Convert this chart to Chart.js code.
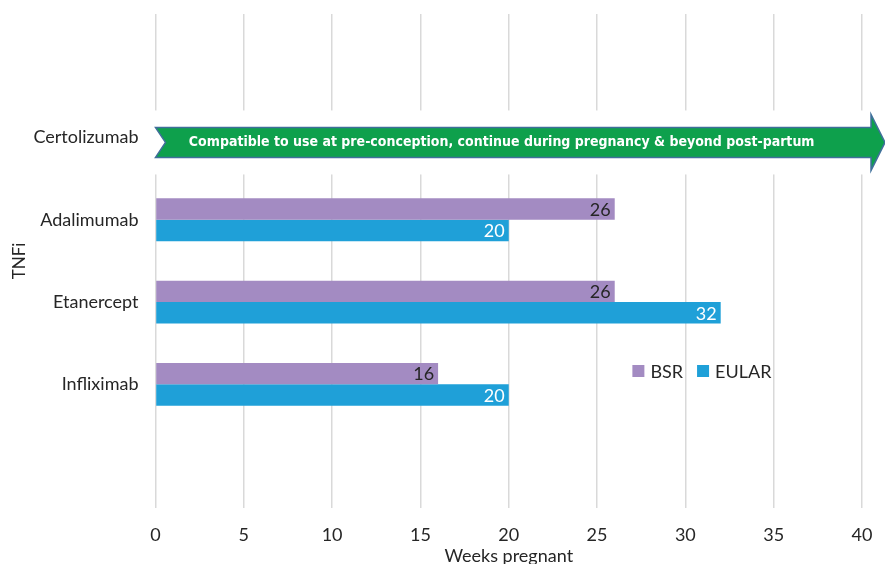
<!DOCTYPE html>
<html>
<head>
<meta charset="utf-8">
<script src="https://cdn.jsdelivr.net/npm/chart.js@4.4.1/dist/chart.umd.min.js"></script>
<style>
  html, body { margin: 0; padding: 0; background: #fff; }
  #wrap { width: 885px; height: 564px; }
</style>
</head>
<body>
<div id="wrap"><canvas id="tnfiChart" width="885" height="564"></canvas></div>
<script>
// categories (empty slots keep the spacing of the original)
const drugs = ["", "Certolizumab", "Adalimumab", "Etanercept", "Infliximab", ""];
const bsrWeeks = [null, null, 26, 26, 16, null];
const eularWeeks = [null, null, 20, 32, 20, null];
const weekTicks = [0, 5, 10, 15, 20, 25, 30, 35, 40];
const arrowDrug = "Certolizumab";
const arrowText = "Compatible to use at pre-conception, continue during pregnancy & beyond post-partum";

const purple = "#a38bc2";
const blue = "#1fa0d8";
const fontFam = "Lato, 'Open Sans', sans-serif";

// value labels at the inner end of each bar
const barLabels = {
  id: "barLabels",
  afterDatasetsDraw(chart) {
    const ctx = chart.ctx;
    ctx.save();
    ctx.font = "18px " + fontFam;
    ctx.textAlign = "right";
    ctx.textBaseline = "middle";
    chart.data.datasets.forEach((ds, i) => {
      const meta = chart.getDatasetMeta(i);
      meta.data.forEach((bar, j) => {
        if (ds.data[j] == null) return;
        ctx.fillStyle = i === 0 ? "#262626" : "#ffffff";
        ctx.fillText(ds.data[j], bar.x - 4, bar.y + 1);
      });
    });
    ctx.restore();
  }
};

// green arrow across the Certolizumab row
const arrowPlugin = {
  id: "arrowPlugin",
  beforeDatasetsDraw(chart) {
    const ctx = chart.ctx;
    const x = chart.scales.x, y = chart.scales.y;
    const cy = y.getPixelForValue(drugs.indexOf(arrowDrug)) + 5;
    const x0 = x.getPixelForValue(0);
    const x1 = chart.width;
    ctx.save();
    // white backing that hides the grid lines
    ctx.fillStyle = "#fff";
    ctx.fillRect(x0 - 2, cy - 32, x1 - x0 + 2, 64);
    const bh = 15, hh = 28, headW = 14, notch = 10;
    ctx.beginPath();
    ctx.moveTo(x0, cy - bh);
    ctx.lineTo(x1 - headW, cy - bh);
    ctx.lineTo(x1 - headW, cy - hh);
    ctx.lineTo(x1, cy);
    ctx.lineTo(x1 - headW, cy + hh);
    ctx.lineTo(x1 - headW, cy + bh);
    ctx.lineTo(x0, cy + bh);
    ctx.lineTo(x0 + notch, cy);
    ctx.closePath();
    ctx.fillStyle = "#0ea04c";
    ctx.fill();
    ctx.strokeStyle = "#3f6f9a";
    ctx.lineWidth = 1.5;
    ctx.stroke();
    ctx.fillStyle = "#fff";
    ctx.font = "bold 14px 'Liberation Sans Narrow', 'DejaVu Sans Condensed', sans-serif";
    ctx.textAlign = "center";
    ctx.textBaseline = "middle";
    ctx.fillText(arrowText, x.getPixelForValue(19.6), cy);
    ctx.restore();
  }
};

// legend inside the plot, lower right
const innerLegend = {
  id: "innerLegend",
  afterDraw(chart) {
    const ctx = chart.ctx;
    const x = chart.scales.x;
    let lx = x.getPixelForValue(27);
    const ly = 371;
    ctx.save();
    ctx.font = "18px " + fontFam;
    ctx.textBaseline = "middle";
    ctx.textAlign = "left";
    chart.data.datasets.forEach(ds => {
      ctx.fillStyle = ds.backgroundColor;
      ctx.fillRect(lx, ly - 6, 12, 12);
      ctx.fillStyle = "#262626";
      ctx.fillText(ds.label, lx + 18, ly + 1);
      lx += 18 + ctx.measureText(ds.label).width + 14;
    });
    ctx.restore();
  }
};

new Chart(document.getElementById("tnfiChart").getContext("2d"), {
  type: "bar",
  data: {
    labels: drugs,
    datasets: [
      { label: "BSR", data: bsrWeeks, backgroundColor: purple },
      { label: "EULAR", data: eularWeeks, backgroundColor: blue }
    ]
  },
  options: {
    indexAxis: "y",
    responsive: false,
    animation: false,
    layout: { padding: { top: 14, right: 23, left: 9, bottom: -3 } },
    categoryPercentage: 0.52,
    barPercentage: 1,
    plugins: {
      legend: { display: false },
      tooltip: { enabled: false }
    },
    scales: {
      x: {
        min: 0,
        max: 40,
        afterBuildTicks(axis) { axis.ticks = weekTicks.map(v => ({ value: v })); },
        grid: { color: "#d9d9d9", lineWidth: 1.5, drawTicks: true, tickLength: 13, tickColor: "rgba(0,0,0,0)" },
        border: { display: false },
        ticks: { color: "#262626", font: { size: 18, family: fontFam }, padding: 4 },
        title: { display: true, text: "Weeks pregnant", color: "#262626", font: { size: 18, family: fontFam }, padding: { top: -5, bottom: 0 } }
      },
      y: {
        grid: { color: "rgba(0,0,0,0)", drawOnChartArea: false, drawTicks: true, tickLength: 17 },
        border: { display: false },
        ticks: { color: "#262626", font: { size: 18, family: fontFam }, padding: 0 },
        title: { display: true, text: "TNFi", color: "#262626", font: { size: 17, family: fontFam }, padding: { top: 0, bottom: 4 } }
      }
    }
  },
  plugins: [arrowPlugin, barLabels, innerLegend]
});
</script>
</body>
</html>
